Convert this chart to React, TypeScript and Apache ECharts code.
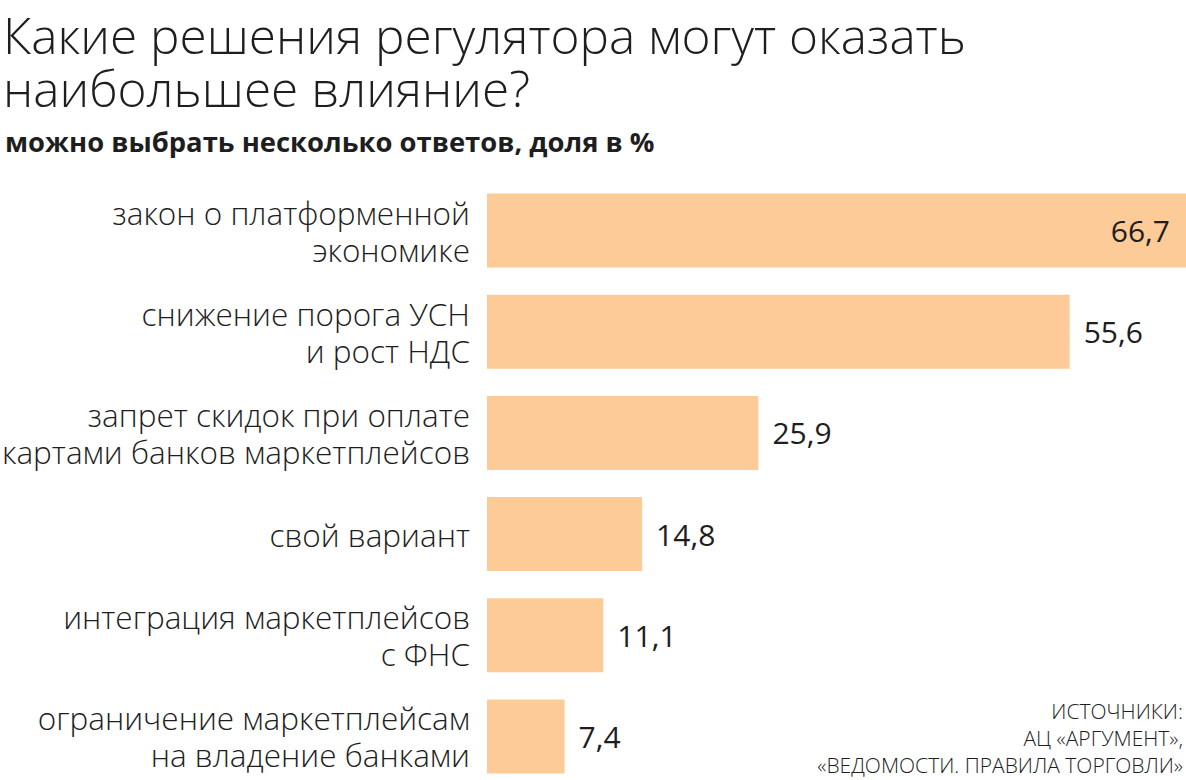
import React, { useEffect, useRef } from "react";
import * as echarts from "echarts";

const titleLines = ["Какие решения регулятора могут оказать", "наибольшее влияние?"];
const subtitle = "можно выбрать несколько ответов, доля в %";
const categories = [
  "закон о платформенной\nэкономике",
  "снижение порога УСН\nи рост НДС",
  "запрет скидок при оплате\nкартами банков маркетплейсов",
  "свой вариант",
  "интеграция маркетплейсов\nс ФНС",
  "ограничение маркетплейсам\nна владение банками",
];
const values = [66.7, 55.6, 25.9, 14.8, 11.1, 7.4];
const sourceLines = ["ИСТОЧНИКИ:", "АЦ «АРГУМЕНТ»,", "«ВЕДОМОСТИ. ПРАВИЛА ТОРГОВЛИ»"];

const FONT = "'Open Sans', 'Noto Sans', sans-serif";
const TEXT = "#1e1e1e";
const BAR = "#fccb97";

export default function App() {
  const ref = useRef<HTMLDivElement>(null);
  useEffect(() => {
    document.body.style.margin = "0";
    document.body.style.overflow = "hidden";
    document.documentElement.style.overflow = "hidden";
    const chart = echarts.init(ref.current!, null, { renderer: "svg" });
    const fmt = (v: number) => v.toFixed(1).replace(".", ",");
    chart.setOption({
      animation: false,
      backgroundColor: "#ffffff",
      title: [
        {
          text: titleLines.join("\n"),
          left: -2,
          top: 3,
          textStyle: {
            fontFamily: FONT,
            fontWeight: 300,
            fontSize: 49.5,
            lineHeight: 53,
            color: TEXT,
          },
        },
        {
          text: subtitle,
          left: 0,
          top: 123,
          textStyle: {
            fontFamily: FONT,
            fontWeight: 700,
            fontSize: 27.4,
            color: TEXT,
          },
        },
      ],
      grid: {
        left: 487,
        right: 0,
        top: 180,
        height: 607,
        containLabel: false,
        outerBoundsMode: "none",
      },
      xAxis: { type: "value", min: 0, max: 66.7, show: false },
      yAxis: {
        type: "category",
        data: categories,
        inverse: true,
        axisLine: { show: false },
        axisTick: { show: false },
        splitLine: { show: false },
        axisLabel: {
          margin: 17,
          fontFamily: FONT,
          fontWeight: 300,
          fontSize: 31.5,
          lineHeight: 37,
          color: TEXT,
          align: "right",
        },
      },
      series: [
        {
          type: "bar",
          barWidth: 74,
          itemStyle: { color: BAR },
          data: values.map((v, i) => ({
            value: v,
            label: {
              show: true,
              position: i === 0 ? "insideRight" : "right",
              distance: i === 0 ? 16 : 14,
              formatter: () => fmt(v),
              fontFamily: FONT,
              fontWeight: 400,
              fontSize: 30,
              color: TEXT,
            },
          })),
        },
      ],
      graphic: [
        {
          type: "text",
          x: 1183,
          y: 697,
          style: {
            text: sourceLines.join("\n"),
            align: "right",
            verticalAlign: "top",
            fontFamily: FONT,
            fontWeight: 300,
            fontSize: 21,
            lineHeight: 27,
            fill: TEXT,
          },
        },
      ],
    });
    return () => chart.dispose();
  }, []);
  return (
    <div
      ref={ref}
      style={{ position: "absolute", left: 0, top: 0, width: 1186, height: 800 }}
    />
  );
}
